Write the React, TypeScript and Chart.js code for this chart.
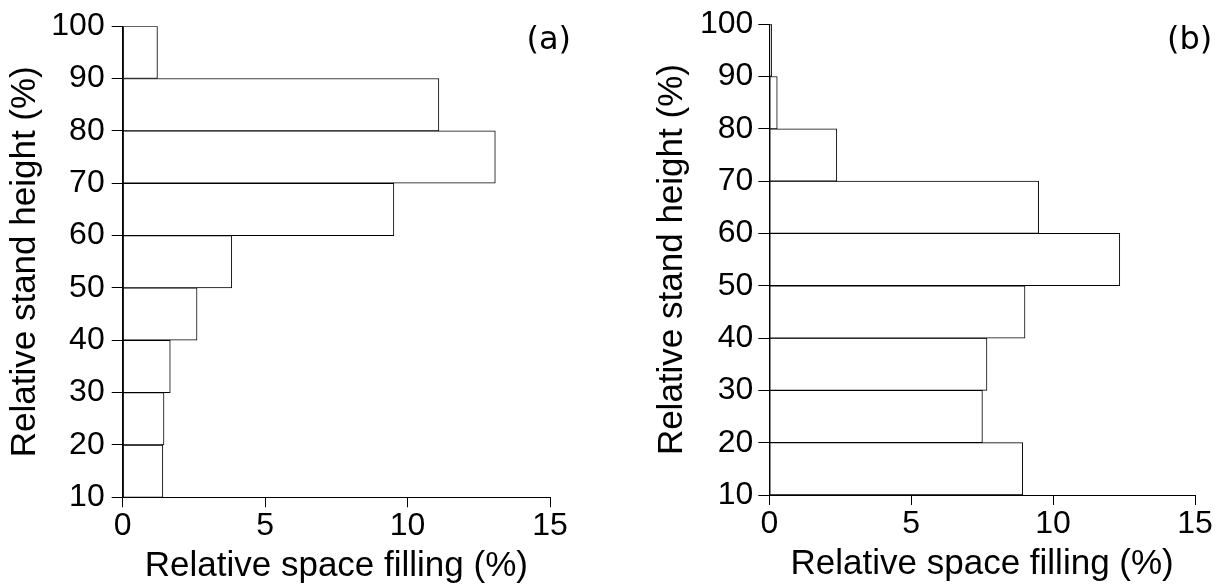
import React, { useEffect, useRef } from "react";
import { Chart, registerables } from "chart.js";

Chart.register(...registerables);

// ---- data ----
const binStarts = [10, 20, 30, 40, 50, 60, 70, 80, 90];
const binWidth = 10;
const valuesA = [1.41, 1.45, 1.67, 2.61, 3.83, 9.52, 13.08, 11.1, 1.22];
const valuesB = [8.93, 7.51, 7.67, 9.01, 12.35, 9.49, 2.38, 0.28, 0.085];
const xTicks = [0, 5, 10, 15];
const yTicks = [10, 20, 30, 40, 50, 60, 70, 80, 90, 100];
const xTitle = "Relative space filling (%)";
const yTitle = "Relative stand height (%)";
const panelLabels = ["(a)", "(b)"];

const FONT = "'Liberation Sans', Arial, sans-serif";

type PanelLayout = {
  left: number;
  right: number;
  top: number;
  yWidth: number;
  xHeight: number;
  yTickPad: number;
  xTickPad: number;
  xTitlePad: number;
  yTitlePad: number;
};

function makeConfig(values: number[], p: PanelLayout): any {
  return {
    type: "bar",
    data: {
      datasets: [
        {
          data: binStarts.map((s, i) => ({ x: values[i], y: s + binWidth / 2 })),
          backgroundColor: "#ffffff",
          borderColor: "#000000",
          borderWidth: 1,
          borderSkipped: false,
          barPercentage: 1,
          categoryPercentage: 1,
        },
      ],
    },
    options: {
      indexAxis: "y",
      animation: false,
      responsive: false,
      devicePixelRatio: 1,
      layout: { padding: { left: p.left, right: p.right, top: p.top, bottom: 0 } },
      plugins: {
        legend: { display: false },
        tooltip: { enabled: false },
        title: { display: false },
      },
      scales: {
        x: {
          type: "linear",
          position: "bottom",
          offset: false,
          min: xTicks[0],
          max: xTicks[xTicks.length - 1],
          afterBuildTicks: (s: any) => {
            s.ticks = xTicks.map((v) => ({ value: v }));
          },
          afterFit: (s: any) => {
            s.height = p.xHeight;
          },
          grid: {
            display: true,
            offset: false,
            drawOnChartArea: false,
            drawTicks: true,
            tickLength: 10,
            tickColor: "#000",
            tickWidth: 1,
          },
          border: { display: true, color: "#000", width: 1 },
          ticks: {
            color: "#000",
            font: { family: FONT, size: 32, lineHeight: 1 },
            padding: p.xTickPad,
            maxRotation: 0,
            autoSkip: false,
          },
          title: {
            display: true,
            text: xTitle,
            color: "#000",
            font: { family: FONT, size: 35 },
            padding: { top: 0, bottom: p.xTitlePad },
          },
        },
        y: {
          type: "linear",
          position: "left",
          offset: false,
          min: yTicks[0],
          max: yTicks[yTicks.length - 1],
          afterBuildTicks: (s: any) => {
            s.ticks = yTicks.map((v) => ({ value: v }));
          },
          afterFit: (s: any) => {
            s.width = p.yWidth;
          },
          grid: {
            display: true,
            offset: false,
            drawOnChartArea: false,
            drawTicks: true,
            tickLength: 11,
            tickColor: "#000",
            tickWidth: 1,
          },
          border: { display: true, color: "#000", width: 1 },
          ticks: {
            color: "#000",
            font: { family: FONT, size: 32, lineHeight: 1.2 },
            padding: p.yTickPad,
            autoSkip: false,
          },
          title: {
            display: true,
            text: yTitle,
            color: "#000",
            font: { family: FONT, size: 35 },
            padding: { top: p.yTitlePad, bottom: 0 },
          },
        },
      },
    },
  };
}

function Panel({ values, layout, left, label, labelX, labelY }: any) {
  const ref = useRef<HTMLCanvasElement | null>(null);
  useEffect(() => {
    if (!ref.current) return;
    const chart = new Chart(ref.current, makeConfig(values, layout));
    return () => chart.destroy();
  }, []);
  return (
    <div style={{ position: "absolute", left, top: 0, width: 611, height: 588 }}>
      <canvas ref={ref} width={611} height={588} style={{ display: "block", width: 611, height: 588 }} />
      <div
        style={{
          position: "absolute",
          left: labelX,
          top: labelY,
          transform: "translate(-50%, -50%)",
          fontFamily: "'DejaVu Sans', sans-serif",
          fontSize: 32,
          lineHeight: 1,
          color: "#000",
          whiteSpace: "nowrap",
        }}
      >
        {label}
      </div>
    </div>
  );
}

const layoutA: PanelLayout = {
  left: 0,
  right: 61,
  top: 24,
  yWidth: 122.7,
  xHeight: 90.7,
  yTickPad: 7,
  xTickPad: 3,
  xTitlePad: 1,
  yTitlePad: 4,
};

const layoutB: PanelLayout = {
  left: 36,
  right: 27,
  top: 22,
  yWidth: 122.3,
  xHeight: 93,
  yTickPad: 5,
  xTickPad: 3,
  xTitlePad: 2.5,
  yTitlePad: 4,
};

export default function App() {
  return (
    <div
      style={{
        position: "fixed",
        left: 0,
        top: 0,
        width: 1222,
        height: 588,
        background: "#fff",
        overflow: "hidden",
      }}
    >
      <Panel values={valuesA} layout={layoutA} left={0} label={panelLabels[0]} labelX={548.7} labelY={38.3} />
      <Panel values={valuesB} layout={layoutB} left={611} label={panelLabels[1]} labelX={1189.7 - 611} labelY={38.3} />
    </div>
  );
}
